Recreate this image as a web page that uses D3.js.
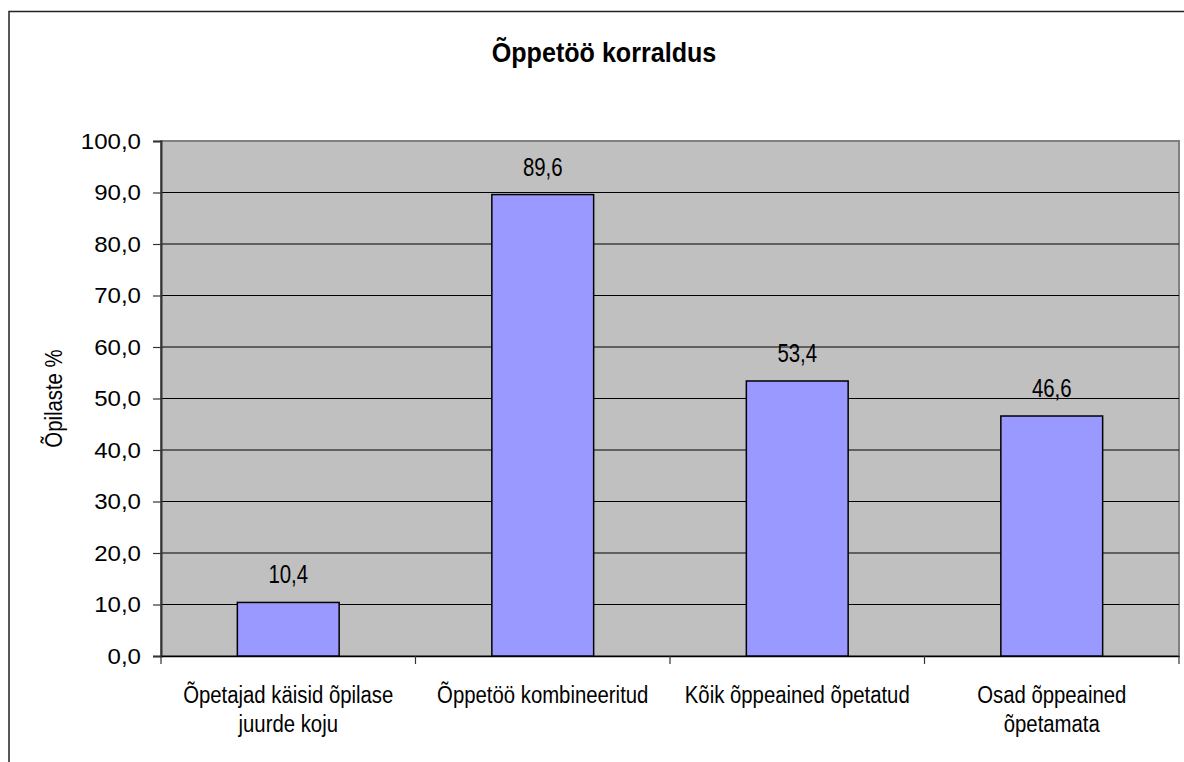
<!DOCTYPE html>
<html>
<head>
<meta charset="utf-8">
<script src="https://cdn.jsdelivr.net/npm/d3@7"></script>
<style>
  body { margin: 0; background: #fff; }
  svg text { font-family: "Liberation Sans", Arial, sans-serif; fill: #000; }
</style>
</head>
<body>
<div id="chart"></div>
<script>
// ----------------------
// Data
// ----------------------
const categories = [
    ["Õpetajad käisid õpilase", "juurde koju"],
    ["Õppetöö kombineeritud"],
    ["Kõik õppeained õpetatud"],
    ["Osad õppeained", "õpetamata"]
];
const values = [10.4, 89.6, 53.4, 46.6];
const yTicks = [0, 10, 20, 30, 40, 50, 60, 70, 80, 90, 100];
const chartTitle = "Õppetöö korraldus";
const yTitle = "Õpilaste %";

const fmt = v => d3.format(".1f")(v).replace(".", ",");

// ----------------------
// Setup
// ----------------------
const width = 1184, height = 762;
const plot = { left: 161, right: 1179, top: 141, bottom: 656 };

const svg = d3.select("#chart").append("svg")
    .attr("width", width)
    .attr("height", height);

// outer chart border (runs off the right / bottom edge)
svg.append("rect")
    .attr("x", 9).attr("y", 11.5)
    .attr("width", 1200).attr("height", 800)
    .attr("fill", "#fff")
    .attr("stroke", "#222").attr("stroke-width", 1.5);

const x = d3.scaleBand()
    .domain(d3.range(categories.length))
    .range([plot.left, plot.right])
    .padding(0);

const y = d3.scaleLinear()
    .domain([0, 100])
    .range([plot.bottom, plot.top]);

// helper: text with horizontal squeeze
function label(g, tx, ty, str, size, sx, anchor, weight) {
    return g.append("text")
        .attr("transform", `translate(${tx},${ty}) scale(${sx},1)`)
        .attr("text-anchor", anchor || "middle")
        .style("font-size", size + "px")
        .style("font-weight", weight || "normal")
        .text(str);
}

// plot background
svg.append("rect")
    .attr("x", plot.left).attr("y", plot.top)
    .attr("width", plot.right - plot.left)
    .attr("height", plot.bottom - plot.top)
    .attr("fill", "#c0c0c0")
    .attr("stroke", "#808080").attr("stroke-width", 2);

// gridlines
svg.append("g")
    .selectAll("line")
    .data(yTicks.filter(d => d > 0 && d < 100))
    .enter().append("line")
    .attr("x1", plot.left).attr("x2", plot.right)
    .attr("y1", d => y(d)).attr("y2", d => y(d))
    .attr("stroke", "#000").attr("stroke-width", 1);

// y axis
const yAxis = svg.append("g")
    .attr("transform", `translate(${plot.left},0)`)
    .call(d3.axisLeft(y).tickValues(yTicks).tickSize(8).tickFormat(""));
yAxis.select(".domain").attr("stroke", "#333").attr("stroke-width", 2);
yAxis.selectAll(".tick line").attr("stroke", "#333").attr("stroke-width", 1.2);
yTicks.forEach(t => {
    label(svg, plot.left - 20, y(t) + 7.5, fmt(t), 21.5, 1.12, "end");
});

// x axis
const xAxis = svg.append("g")
    .attr("transform", `translate(0,${plot.bottom})`)
    .call(d3.axisBottom(x).tickSize(0).tickFormat(""));
xAxis.select(".domain").attr("stroke", "#000").attr("stroke-width", 1.5);
svg.append("g")
    .selectAll("line")
    .data(d3.range(categories.length + 1))
    .enter().append("line")
    .attr("x1", d => plot.left + d * x.step())
    .attr("x2", d => plot.left + d * x.step())
    .attr("y1", plot.bottom).attr("y2", plot.bottom + 8)
    .attr("stroke", "#333").attr("stroke-width", 1.2);

categories.forEach((lines, i) => {
    const cx = x(i) + x.bandwidth() / 2;
    lines.forEach((ln, j) => {
        label(svg, cx, 703 + j * 29, ln, 24.5, 0.83);
    });
});

// bars
const barW = x.bandwidth() * 0.4;
svg.append("g")
    .selectAll("rect")
    .data(values)
    .enter().append("rect")
    .attr("x", (d, i) => x(i) + (x.bandwidth() - barW) / 2)
    .attr("y", d => y(d))
    .attr("width", barW)
    .attr("height", d => y(0) - y(d))
    .attr("fill", "#9999ff")
    .attr("stroke", "#000").attr("stroke-width", 1.5);

// value labels
values.forEach((v, i) => {
    label(svg, x(i) + x.bandwidth() / 2, y(v) - 19, fmt(v), 25.5, 0.8);
});

// titles
label(svg, 604, 62, chartTitle, 27, 0.93, "middle", "bold");
svg.append("text")
    .attr("transform", `translate(62,${(plot.top + plot.bottom) / 2}) rotate(-90) scale(0.83,1)`)
    .attr("text-anchor", "middle")
    .style("font-size", "24.5px")
    .text(yTitle);
</script>
</body>
</html>
